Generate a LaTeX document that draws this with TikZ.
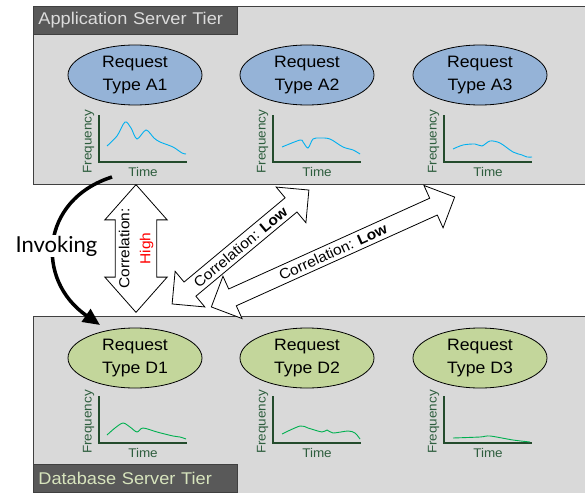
\documentclass[tikz,border=0pt]{standalone}
\usepackage{fontspec}
\setmainfont[FakeStretch=1.07]{Liberation Sans}
\newfontfamily\invokeFont{Lato}
\usetikzlibrary{arrows.meta,shapes.geometric,shapes.arrows}
\definecolor{tierFill}{HTML}{D9D9D9}
\definecolor{tierBorder}{HTML}{404040}
\definecolor{tagFill}{HTML}{595959}
\definecolor{tagTextApp}{HTML}{DCDCDC}
\definecolor{tagTextDb}{HTML}{D7E4BD}
\definecolor{reqAFill}{HTML}{95B3D7}
\definecolor{reqDFill}{HTML}{C3D69B}
\definecolor{curveAColor}{HTML}{00B0F0}
\definecolor{curveDColor}{HTML}{00B050}
\definecolor{axisColor}{HTML}{234B2C}
\definecolor{axisText}{HTML}{2E5E3E}

\begin{document}
\begin{tikzpicture}[
  x=1pt, y=1pt,
  tier/.style={
    rectangle,
    fill=tierFill,
    draw=tierBorder,
    line width=1pt,
    anchor=north west,
    inner sep=0pt
  },
  tierTag/.style={
    rectangle,
    fill=tagFill,
    draw=tierBorder,
    line width=0.8pt,
    minimum width=204pt,
    minimum height=28pt,
    text width=194pt,
    inner xsep=5pt,
    inner ysep=0pt,
    align=left,
    font=\fontsize{17}{20}\selectfont
  },
  reqA/.style={
    ellipse,
    fill=reqAFill,
    draw=black,
    line width=0.8pt,
    minimum width=134pt,
    minimum height=60pt,
    inner sep=1pt,
    align=center,
    font=\fontsize{16.5}{23}\selectfont
  },
  reqD/.style={reqA, fill=reqDFill},
  axisLine/.style={axisColor, line width=1.2pt},
  axisLabel/.style={text=axisText, inner sep=0pt, font=\fontsize{12.6}{15}\selectfont},
  curveA/.style={curveAColor, line width=0.9pt},
  curveD/.style={curveDColor, line width=0.9pt},
  corr/.style={
    double arrow,
    fill=white,
    draw=black,
    line width=0.8pt,
    align=center,
    inner xsep=0pt,
    font=\fontsize{14.5}{21}\selectfont
  },
  invoke/.style={-{Triangle[length=17pt, width=15pt]}, black, line width=3.5pt}
]
  \useasboundingbox (0,0) rectangle (585,-492);

  % tiers
  \node[tier, minimum width=556pt, minimum height=178pt] (appTier) at (33,-6) {};
  \node[tier, minimum width=556pt, minimum height=180pt] (dbTier) at (33,-316) {};
  \node[tierTag, anchor=north west, text=tagTextApp] (appTag) at (33,-6) {Application Server Tier};
  \node[tierTag, anchor=south west, text=tagTextDb] (dbTag) at (33,-492.5) {Database Server Tier};

  % request types
  \node[reqA] (A1) at (135,-75) {Request\\Type A1};
  \node[reqA] (A2) at (307,-75) {Request\\Type A2};
  \node[reqA] (A3) at (480,-75) {Request\\Type A3};
  \node[reqD] (D1) at (135,-358) {Request\\Type D1};
  \node[reqD] (D2) at (307,-358) {Request\\Type D2};
  \node[reqD] (D3) at (480,-358) {Request\\Type D3};

  % histograms
  \begin{scope}[shift={(99,-162)}]
    \draw[axisLine] (0,47) |- (88,0);
    \draw[curveA] plot[smooth] coordinates {(8,16) (18,26) (26,40) (32,34) (38,23) (47,32) (55,24) (61,20) (74,15) (83,9) (87,8)};
    \node[axisLabel, rotate=90] (fA1) at (-10.5,20.5) {Frequency};
    \node[axisLabel] (tA1) at (44,-10) {Time};
  \end{scope}
  \begin{scope}[shift={(273,-162)}]
    \draw[axisLine] (0,47) |- (88,0);
    \draw[curveA] plot[smooth] coordinates {(9,15) (27,22) (30,20) (35,14) (40,23) (47,24) (57,23) (70,15) (80,12) (87,8)};
    \node[axisLabel, rotate=90] (fA2) at (-10.5,20.5) {Frequency};
    \node[axisLabel] (tA2) at (44,-10) {Time};
  \end{scope}
  \begin{scope}[shift={(444,-162)}]
    \draw[axisLine] (0,47) |- (88,0);
    \draw[curveA] plot[smooth] coordinates {(9,13) (19,17) (31,18) (38,16) (46,21) (56,19) (69,10) (78,7) (83,5) (88,5)};
    \node[axisLabel, rotate=90] (fA3) at (-10.5,20.5) {Frequency};
    \node[axisLabel] (tA3) at (44,-10) {Time};
  \end{scope}
  \begin{scope}[shift={(99,-443)}]
    \draw[axisLine] (0,47) |- (88,0);
    \draw[curveD] plot[smooth] coordinates {(8,8) (16,15) (24,20) (31,16) (38,11) (44,15) (58,11) (74,7) (81,6) (87,4)};
    \node[axisLabel, rotate=90] (fD1) at (-10.5,21) {Frequency};
    \node[axisLabel] (tD1) at (44,-10) {Time};
  \end{scope}
  \begin{scope}[shift={(273,-443)}]
    \draw[axisLine] (0,47) |- (88,0);
    \draw[curveD] plot[smooth] coordinates {(9,9) (27,17) (35,15) (49,11) (54,13) (60,10) (75,12) (82,10) (87,4)};
    \node[axisLabel, rotate=90] (fD2) at (-10.5,21) {Frequency};
    \node[axisLabel] (tD2) at (44,-10) {Time};
  \end{scope}
  \begin{scope}[shift={(444,-443)}]
    \draw[axisLine] (0,47) |- (88,0);
    \draw[curveD] plot[smooth] coordinates {(9,5) (36,6) (46,7) (69,3) (86,1)};
    \node[axisLabel, rotate=90] (fD3) at (-10.5,21) {Frequency};
    \node[axisLabel] (tD3) at (44,-10) {Time};
  \end{scope}

  % invoking
  \coordinate (invS) at (112,-177);
  \coordinate (invE) at (100,-325);
  \draw[invoke] (invS) .. controls (40,-200) and (35,-280) .. (invE);
  \node[fill=white, inner sep=1pt, anchor=base, font=\invokeFont\fontsize{22}{24}\selectfont] (invLabel) at (56.5,-252) {Invoking};

  % correlations
  \node[corr, rotate=90, minimum height=117pt, inner ysep=3pt,
        double arrow head extend=10.5pt, double arrow tip angle=83] (corrHigh) at (136,-248.5)
        {Correlation:\\\textcolor{red}{High}};
  \node[corr, rotate=39.8, minimum height=178pt, inner ysep=3.5pt,
        double arrow head extend=14pt, double arrow tip angle=90] (corrLowA) at (240.5,-247)
        {Correlation: \textbf{Low}};
  \node[corr, rotate=24.3, minimum height=267pt, inner ysep=3.5pt,
        double arrow head extend=14pt, double arrow tip angle=90] (corrLowB) at (333,-252)
        {Correlation: \textbf{Low}};

\end{tikzpicture}
\end{document}
